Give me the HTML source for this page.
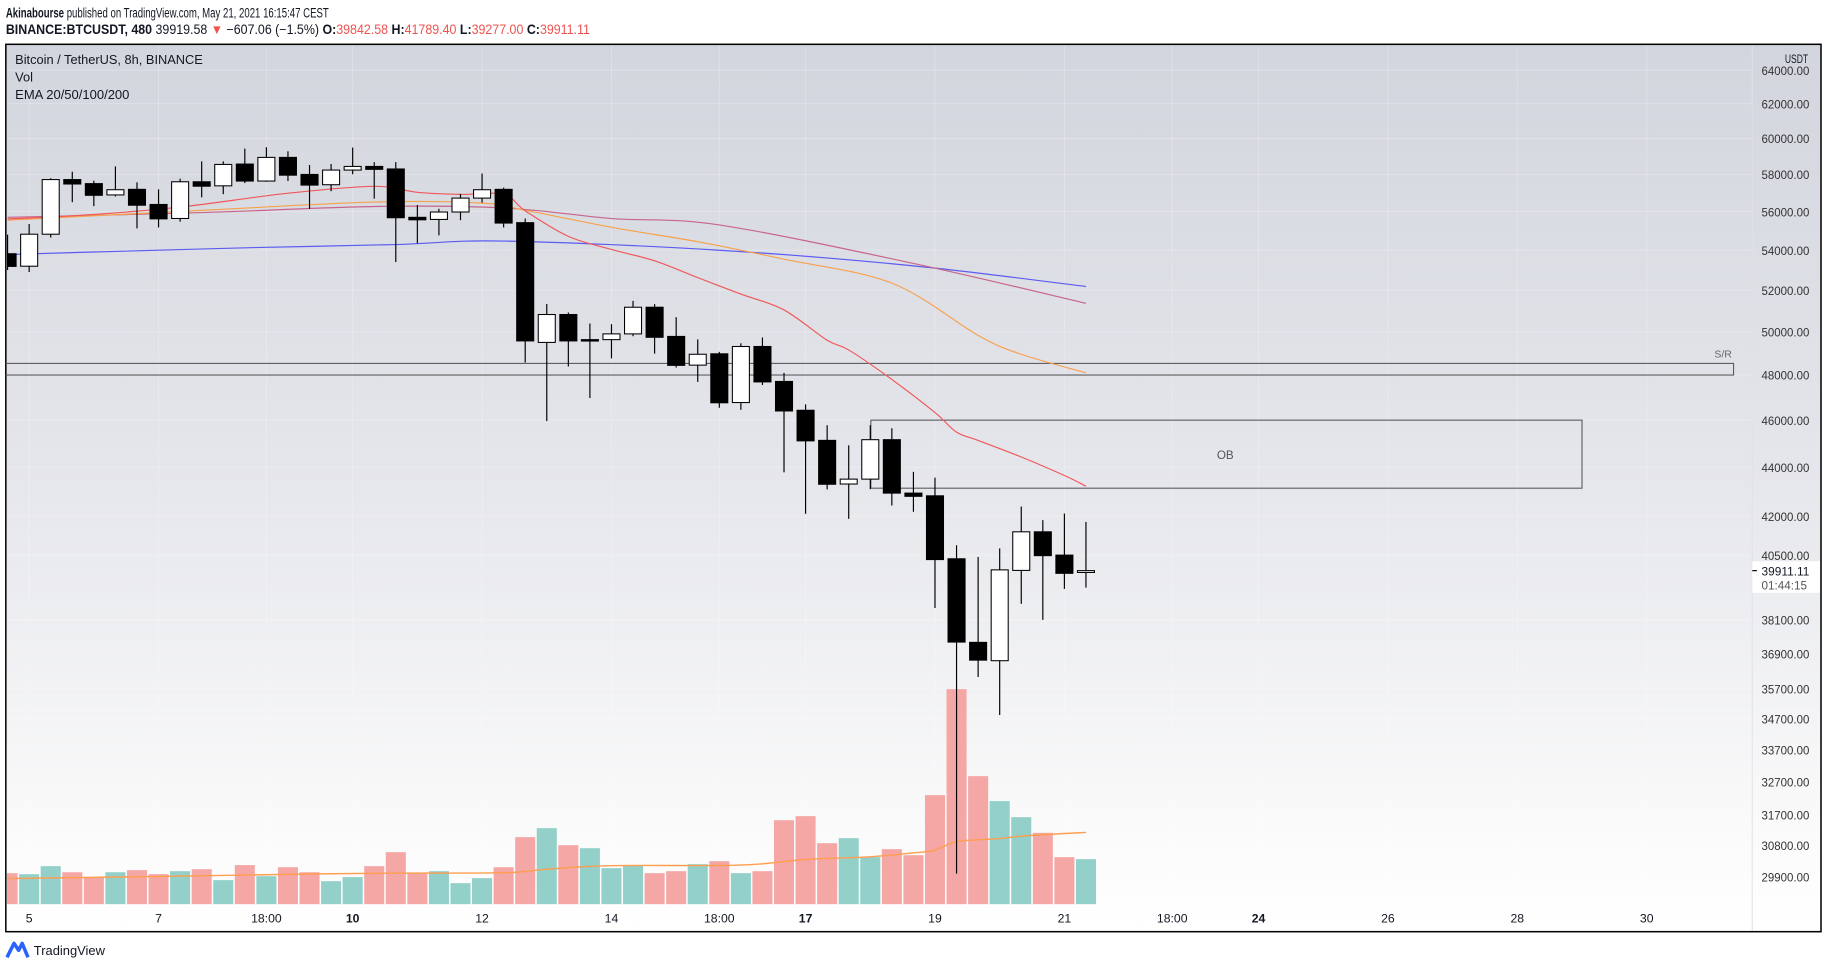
<!DOCTYPE html>
<html><head><meta charset="utf-8">
<style>
html,body{margin:0;padding:0;background:#fff;}
svg{display:block;font-family:"Liberation Sans",sans-serif;}
</style></head>
<body>
<svg id="chart" width="1828" height="969" viewBox="0 0 1568 831" preserveAspectRatio="none" xmlns="http://www.w3.org/2000/svg">
<defs>
<linearGradient id="bg" x1="0" y1="0" x2="0" y2="1">
<stop offset="0" stop-color="#d2d5dd"/>
<stop offset="0.5" stop-color="#e6e7ec"/>
<stop offset="0.9" stop-color="#fbfbfb"/>
<stop offset="1" stop-color="#ffffff"/>
</linearGradient>
<clipPath id="clipPane"><rect x="6" y="39" width="1496" height="759"/></clipPath>
</defs>
<text x="5" y="15" font-size="11.5" fill="#131722" textLength="277" lengthAdjust="spacingAndGlyphs"><tspan font-weight="bold">Akinabourse</tspan> published on TradingView.com, May 21, 2021 16:15:47 CEST</text>
<text x="5" y="29" font-size="11.5" fill="#131722" textLength="501" lengthAdjust="spacingAndGlyphs"><tspan font-weight="bold">BINANCE:BTCUSDT, 480</tspan> 39919.58 <tspan fill="#ef5350">▼</tspan> −607.06 (−1.5%) <tspan font-weight="bold">O:</tspan><tspan fill="#ef5350">39842.58</tspan> <tspan font-weight="bold">H:</tspan><tspan fill="#ef5350">41789.40</tspan> <tspan font-weight="bold">L:</tspan><tspan fill="#ef5350">39277.00</tspan> <tspan font-weight="bold">C:</tspan><tspan fill="#ef5350">39911.11</tspan></text>
<rect x="5" y="38" width="1557" height="761" fill="url(#bg)" stroke="none"/>
<g id="grid"></g>
<g id="pane" clip-path="url(#clipPane)"></g>
<line x1="1503" y1="38" x2="1503" y2="799" stroke="#dfe1e6" stroke-width="0.8"/>
<g id="axis"></g>
<text x="13" y="55" font-size="11" fill="#131722" textLength="161" lengthAdjust="spacingAndGlyphs">Bitcoin / TetherUS, 8h, BINANCE</text>
<text x="13" y="70" font-size="11" fill="#131722">Vol</text>
<text x="13" y="85" font-size="11" fill="#131722" textLength="98" lengthAdjust="spacingAndGlyphs">EMA 20/50/100/200</text>
<text x="1531" y="54" font-size="10" fill="#131722" textLength="20" lengthAdjust="spacingAndGlyphs">USDT</text>
<rect x="5" y="38" width="1557" height="761" fill="none" stroke="#000" stroke-width="1.3"/>
<g>
<path d="M6 821 L12 809 L16 815 L19 809 L24 821" fill="none" stroke="#2962ff" stroke-width="3" stroke-linejoin="round"/>
<text x="29" y="819" font-size="11" fill="#131722" textLength="61" lengthAdjust="spacingAndGlyphs">TradingView</text>
</g>
</svg>
<script>
// ---- data ----
const candleIndex = [-1,0,1,2,3,4,5,6,7,8,9,10,11,12,13,14,15,16,17,18,19,20,21,22,23,24,25,26,27,28,29,30,31,32,33,34,35,36,37,38,39,40,41,42,43,44,45,46,47,48,49];
const opens  = [53820,53190,54820,57720,57500,56890,57190,56380,55640,57600,57380,58570,57640,58940,58000,57440,58240,58440,58300,55700,55590,55980,56720,57190,55420,49500,50820,49630,49630,49900,51170,49780,48450,48970,46770,49310,47710,46430,45130,43310,43510,45160,42940,42830,40360,37300,36660,39920,41400,40500,39842];
const highs  = [54800,55350,57790,58150,57660,58440,57570,57190,57770,58720,58720,59430,59510,59280,58520,58570,59490,58680,58680,56350,56150,56940,58050,57280,55640,51330,50920,50390,50360,51480,51320,50690,49640,49060,49460,49730,48100,46690,45780,44920,45780,45650,43810,43570,40880,40430,40760,42400,41860,42120,41789];
const lows   = [53000,52900,54650,56500,56290,56810,55120,55170,55470,56760,56930,57530,57600,57640,56140,57090,58010,56690,53400,54350,54760,55550,56480,55170,48570,45960,48390,46970,48760,49790,48980,48340,47690,46540,46450,47550,43790,42110,43090,41910,43100,42440,42190,38530,29990,36100,34830,38680,38100,39230,39277];
const closes = [53180,54820,57720,57480,56870,57170,56340,55620,57600,57360,58550,57640,58940,57960,57420,58240,58440,58280,55680,55570,55980,56720,57170,55400,49570,50820,49570,49570,49900,51170,49740,48440,48950,46760,49310,47690,46400,45110,43300,43510,45160,42940,42810,40330,37310,36680,39940,41400,40480,39810,39911.11];
const volumes = [26.6,25.7,32.6,27.4,22.9,27.4,29.2,25.7,28.3,30.0,20.6,33.5,24.0,31.7,27.4,19.7,23.2,32.6,44.6,26.6,28.3,18.0,22.3,31.7,57.5,65.2,50.6,48.0,30.9,32.9,26.6,28.3,34.3,36.9,26.6,28.3,72.0,75.5,52.3,56.6,40.3,47.2,42.0,93.5,184.4,109.8,88.4,74.6,61.2,40.3,38.6];
const volumeUp = [0,1,1,0,0,1,0,0,1,0,1,0,1,0,0,1,1,0,0,0,1,1,1,0,0,1,0,1,1,1,0,0,1,0,1,0,0,0,0,1,1,0,0,0,0,0,1,1,0,0,1];
const volMaIndex = [-1,5,10,16,22,24,27,33,36,39,41,42,43,45,46,48,49];
const volMaValues = [22,23.5,25,26.5,27,30,33,33.5,38.3,40.6,44,46.3,53.5,56.3,58.3,60.6,61.5];
const ema20Index = [-1,3,7,12,16,18,20,22,23,25,27,29,31,33,35,37,38,40,42,43,44,46,48,49];
const ema20Values = [55610,55850,56240,56980,57350,57030,56920,56920,56040,54710,54040,53460,52620,51810,51040,49600,49150,47800,46330,45480,45130,44430,43660,43220];
const ema50Index = [-1,8,16,21,23,27,31,35,40,44,46,49];
const ema50Values = [55550,56070,56510,56450,56070,55180,54430,53540,52350,49830,48950,48100];
const ema100Index = [-1,8,16,22,27,32,41,49];
const ema100Values = [55700,55950,56270,56200,55640,55300,53330,51360];
const ema200Index = [-1,4,10,17,22,32,41,49];
const ema200Values = [53780,53940,54120,54290,54470,54000,53210,52180];
const priceTicks = [64000,62000,60000,58000,56000,54000,52000,50000,48000,46000,44000,42000,40500,38100,36900,35700,34700,33700,32700,31700,30800,29900];
const timeTickIndex = [0,6,11,15,21,27,32,36,42,48,53,57,63,69,75];
const timeTickLabels = ["5","7","18:00","10","12","14","18:00","17","19","21","18:00","24","26","28","30"];
const timeTickBold = [0,0,0,1,0,0,0,1,0,0,0,1,0,0,0];
const srZone = [48000,48530];
const obZone = [43140,46000];

// ---- axes ----
function xAt(i){ return 25 + 18.5*i; }
function yPrice(p){ return 443 - 909*Math.log(p/42000); }
function yVol(v){ return 775.4 - v; }
const NS = "http://www.w3.org/2000/svg";
function mk(tag, attrs, parent){ const e=document.createElementNS(NS,tag); for(const k in attrs) e.setAttribute(k,attrs[k]); parent.appendChild(e); return e; }
const pane = document.getElementById('pane');
const grid = document.getElementById('grid');
const axis = document.getElementById('axis');

priceTicks.forEach(p=>{
  const l = mk('line',{x1:6,x2:1503,y1:yPrice(p),y2:yPrice(p),stroke:'rgba(255,255,255,0.25)','stroke-width':0.8},grid);
  
  
});
timeTickIndex.forEach(i=>{
  const l = mk('line',{x1:xAt(i),x2:xAt(i),y1:39,y2:798,stroke:'rgba(255,255,255,0.25)','stroke-width':0.8},grid);
  
  
});

const sr = mk('rect',{x:5,y:yPrice(srZone[1]),width:1482,height:yPrice(srZone[0])-yPrice(srZone[1]),fill:'none',stroke:'#555','stroke-width':0.9},pane);


const srT = mk('text',{x:1478,y:yPrice(srZone[1])-5,'font-size':9,fill:'#666','text-anchor':'middle'},axis);
srT.textContent='S/R';


const ob = mk('rect',{x:747,y:yPrice(obZone[1]),width:610,height:yPrice(obZone[0])-yPrice(obZone[1]),fill:'none',stroke:'#555','stroke-width':0.9},pane);


const obT = mk('text',{x:1051,y:(yPrice(obZone[0])+yPrice(obZone[1]))/2+4,'font-size':10,fill:'#555','text-anchor':'middle'},pane);
obT.textContent='OB';



candleIndex.forEach((i,k)=>{
  const v = volumes[k];
  const r = mk('rect',{x:xAt(i)-8.6,y:yVol(v),width:17.2,height:v,fill:volumeUp[k]?'#92d0c9':'#f5a7a6'},pane);
  
  
});
function line(idx, vals, yf, color, name, w){
  const P = idx.map((i,k)=>[xAt(i), yf(vals[k])]);
  let d = 'M'+P[0][0].toFixed(1)+','+P[0][1].toFixed(1);
  for(let k=0;k<P.length-1;k++){
    const p0=P[Math.max(k-1,0)], p1=P[k], p2=P[k+1], p3=P[Math.min(k+2,P.length-1)];
    const c1=[p1[0]+(p2[0]-p0[0])/6, p1[1]+(p2[1]-p0[1])/6];
    const c2=[p2[0]-(p3[0]-p1[0])/6, p2[1]-(p3[1]-p1[1])/6];
    d += ' C'+c1[0].toFixed(1)+','+c1[1].toFixed(1)+' '+c2[0].toFixed(1)+','+c2[1].toFixed(1)+' '+p2[0].toFixed(1)+','+p2[1].toFixed(1);
  }
  const p = mk('path',{d:d,fill:'none',stroke:color,'stroke-width':w,'stroke-linejoin':'round'},pane);
  
  
}
line(volMaIndex, volMaValues, yVol, '#ff9e4f', 'volume-ma-line', 1.2);
line(ema200Index, ema200Values, yPrice, '#5b5bf0', 'ema200-line', 1);
line(ema100Index, ema100Values, yPrice, '#c8658a', 'ema100-line', 1);
line(ema50Index, ema50Values, yPrice, '#f7a14c', 'ema50-line', 1);
line(ema20Index, ema20Values, yPrice, '#f0585a', 'ema20-line', 1);

candleIndex.forEach((i,k)=>{
  const o=opens[k], c=closes[k], h=highs[k], l=lows[k];
  const x=xAt(i);
  const g = mk('g',{},pane);
  
  
  const wk = mk('line',{x1:x,x2:x,y1:yPrice(h),y2:yPrice(l),stroke:'#000','stroke-width':1},g);
  
  
  const top=yPrice(Math.max(o,c)), bot=yPrice(Math.min(o,c));
  const b = mk('rect',{x:x-7.3,y:top,width:14.6,height:Math.max(bot-top,1.2),fill:c>=o?'#fff':'#000',stroke:'#000','stroke-width':0.9},g);
  
  
});

priceTicks.forEach(p=>{
  const t = mk('text',{x:1511,y:yPrice(p)+4,'font-size':10.5,fill:'#333',textLength:41,lengthAdjust:'spacingAndGlyphs'},axis);
  t.textContent=p.toFixed(2);
  
  
});
const lastY = yPrice(closes[closes.length-1]);
const lb = mk('rect',{x:1503,y:lastY-8,width:58,height:27,fill:'#fff'},axis);


const dash = mk('line',{x1:1503,x2:1507,y1:lastY,y2:lastY,stroke:'#000','stroke-width':1},axis);


const lt = mk('text',{x:1511,y:lastY+4,'font-size':10.5,fill:'#131722',textLength:41,lengthAdjust:'spacingAndGlyphs'},axis);
lt.textContent = closes[closes.length-1].toFixed(2);


const ct = mk('text',{x:1511,y:lastY+16,'font-size':10.5,fill:'#555',textLength:39,lengthAdjust:'spacingAndGlyphs'},axis);
ct.textContent='01:44:15';



timeTickIndex.forEach((i,k)=>{
  const t = mk('text',{x:xAt(i),y:791,'font-size':10.5,fill:'#131722','text-anchor':'middle','font-weight':timeTickBold[k]?'bold':'normal'},axis);
  t.textContent=timeTickLabels[k];
  
  
});
</script>
</body></html>
